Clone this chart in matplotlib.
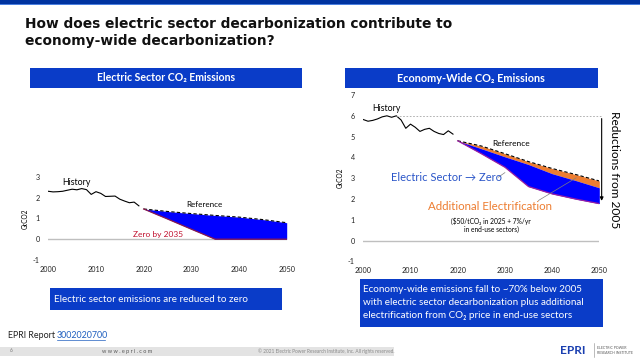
import matplotlib
matplotlib.use("Agg")
import matplotlib.pyplot as plt
from matplotlib.patches import Rectangle

plt.rcParams['font.family'] = ['Lato', 'DejaVu Sans']

# ---------------- data ----------------
hist_years = list(range(2000, 2020))
elec_hist = [2.30, 2.27, 2.28, 2.30, 2.35, 2.40, 2.37, 2.43, 2.38, 2.15,
             2.28, 2.20, 2.05, 2.06, 2.07, 1.92, 1.83, 1.75, 1.78, 1.60]
econ_hist = [5.82, 5.74, 5.78, 5.85, 5.95, 6.00, 5.93, 6.00, 5.80, 5.40,
             5.60, 5.45, 5.25, 5.35, 5.40, 5.25, 5.15, 5.10, 5.28, 5.12]

proj_years = [2020, 2025, 2030, 2035, 2040, 2045, 2050]
elec_ref = [1.45, 1.33, 1.23, 1.14, 1.06, 0.94, 0.79]
elec_zero = [1.45, 0.97, 0.48, 0.0, 0.0, 0.0, 0.0]

econ_ref = [4.80, 4.55, 4.18, 3.80, 3.47, 3.18, 2.87]
econ_elec_zero = [4.80, 4.42, 4.03, 3.66, 3.22, 2.89, 2.54]
econ_addl_elec = [4.80, 4.18, 3.53, 2.60, 2.25, 2.00, 1.78]

xticks = [2000, 2010, 2020, 2030, 2040, 2050]
elec_yticks = [-1, 0, 1, 2, 3]
econ_yticks = [-1, 0, 1, 2, 3, 4, 5, 6, 7]
baseline_2005 = econ_hist[5]

BLUE_BOX = '#0a3cc8'
FILL_BLUE = '#0000ff'
ORANGE = '#ed7d31'
W, H = 640, 360

fig = plt.figure(figsize=(6.4, 3.6), dpi=100)

# overlay for slide decorations (pixel coords)
ov = fig.add_axes([0, 0, 1, 1])
ov.set_xlim(0, W)
ov.set_ylim(H, 0)
ov.axis('off')
ov.add_patch(Rectangle((0, 0), W, 4, color='#0033a0', lw=0))
ov.add_patch(Rectangle((0, 4), W, 1, color='#4a7fe0', lw=0))
ov.text(25, 28.5, "How does electric sector decarbonization contribute to",
        fontsize=9.9, fontweight='bold', family='DejaVu Sans', va='baseline', ha='left', color='#111111')
ov.text(25, 45, "economy-wide decarbonization?",
        fontsize=9.9, fontweight='bold', family='DejaVu Sans', va='baseline', ha='left', color='#111111')

# chart title boxes
ov.add_patch(Rectangle((30, 68), 272, 20, color=BLUE_BOX, lw=0))
ov.text(166, 78, "Electric Sector CO₂ Emissions", color='white', fontsize=7.6,
        fontweight='bold', ha='center', va='center')
ov.add_patch(Rectangle((345, 68), 253, 20, color=BLUE_BOX, lw=0))
ov.text(471, 78, "Economy-Wide CO₂ Emissions", color='white', fontsize=7.8,
        fontweight='bold', ha='center', va='center')

# bottom boxes
ov.add_patch(Rectangle((50, 288), 232, 22, color=BLUE_BOX, lw=0))
ov.text(54, 299, "Electric sector emissions are reduced to zero", color='white',
        fontsize=7.1, ha='left', va='center')
ov.add_patch(Rectangle((360, 279), 243, 48, color=BLUE_BOX, lw=0))
for i, line in enumerate(["Economy-wide emissions fall to ~70% below 2005",
                          "with electric sector decarbonization plus additional",
                          "electrification from CO₂ price in end-use sectors"]):
    ov.text(363, 290 + i * 12.5, line, color='white', fontsize=7.1, ha='left', va='center')

# report ref + footer
ov.text(8, 335, "EPRI Report", fontsize=6.4, ha='left', va='center', color='#222222')
ov.text(57, 335, "3002020700", fontsize=6.4, ha='left', va='center', color='#1f5fbf')
ov.plot([57, 105], [339.5, 339.5], color='#1f5fbf', lw=0.5)
ov.add_patch(Rectangle((0, 346.5), 394, 9, color='#e3e3e3', lw=0))
ov.text(10, 351, "6", fontsize=3.5, ha='left', va='center', color='#777777')
ov.text(127, 351, "w w w . e p r i . c o m", fontsize=4.0, ha='center', va='center', color='#555555')
ov.text(326, 351, "© 2021 Electric Power Research Institute, Inc. All rights reserved.",
        fontsize=3.4, ha='center', va='center', color='#888888')
ov.text(573, 350, "EPRI", fontsize=8.5, fontweight='bold', ha='center', va='center', color='#1a3fb0')
ov.plot([594, 594], [343, 357], color='#888888', lw=0.4)
ov.text(597, 348, "ELECTRIC POWER", fontsize=2.5, ha='left', va='center', color='#555555')
ov.text(597, 352.5, "RESEARCH INSTITUTE", fontsize=2.5, ha='left', va='center', color='#555555')


def style_axes(ax, ylim, yticks):
    ax.set_xlim(2000, 2050)
    ax.set_ylim(*ylim)
    ax.set_xticks(xticks)
    ax.set_yticks(yticks)
    ax.set_xticklabels([str(t) for t in xticks])
    ax.set_yticklabels([str(t) for t in yticks])
    for s in ax.spines.values():
        s.set_visible(False)
    ax.tick_params(length=0, labelsize=5.2, colors='#222222', pad=6)
    ax.tick_params(axis='x', pad=4)
    ax.axhline(0, color='#bfbfbf', lw=1.0, zorder=1)
    ax.set_ylabel("GtCO2", fontsize=4.8, labelpad=3)
    ax.patch.set_alpha(0)


# ---------------- left chart ----------------
axl = fig.add_axes([48.3 / W, 1 - 260 / H, 238.4 / W, 83.3 / H])
style_axes(axl, (-1, 3), elec_yticks)
axl.plot(hist_years, elec_hist, color='black', lw=0.8)
axl.fill_between(proj_years, elec_zero, elec_ref, color=FILL_BLUE, lw=0, zorder=2)
axl.plot(proj_years, elec_ref, color='black', lw=0.8, ls=(0, (3, 2)), zorder=3)
axl.plot(proj_years, elec_zero, color='#8b1a4a', lw=0.9, zorder=3)
axl.text(2003, 2.7, "History", fontsize=6.3, ha='left', va='center')
axl.text(2029, 1.68, "Reference", fontsize=5.8, ha='left', va='center')
axl.text(2017.8, 0.22, "Zero by 2035", fontsize=6, ha='left', va='center', color='#c0102e')

# ---------------- right chart ----------------
axr = fig.add_axes([363.3 / W, 1 - 261.5 / H, 236 / W, 166.5 / H])
style_axes(axr, (-1, 7), econ_yticks)
axr.plot(hist_years, econ_hist, color='black', lw=0.8)
axr.fill_between(proj_years, econ_elec_zero, econ_ref, color=ORANGE, lw=0, zorder=2)
axr.fill_between(proj_years, econ_addl_elec, econ_elec_zero, color=FILL_BLUE, lw=0, zorder=2)
axr.plot(proj_years, econ_ref, color='black', lw=0.8, ls=(0, (3, 2)), zorder=3)
axr.plot(proj_years, econ_addl_elec, color='#9b1fa0', lw=0.9, zorder=3)
axr.plot([2007, 2050.5], [baseline_2005, baseline_2005], color='#a6a6a6', lw=0.6,
         ls=(0, (2, 2)), clip_on=False)
axr.annotate("", xy=(2050.5, econ_addl_elec[-1]), xytext=(2050.5, baseline_2005),
             arrowprops=dict(arrowstyle='-|>', color='black', lw=0.8, mutation_scale=5),
             annotation_clip=False)
axr.text(2053.2, 3.4, "Reductions from 2005", rotation=-90, fontsize=8.6,
         ha='center', va='center', clip_on=False)
axr.text(2002, 6.36, "History", fontsize=6.3, ha='left', va='center')
axr.text(2027.3, 4.68, "Reference", fontsize=6, ha='left', va='center')
axr.text(2005.8, 3.06, "Electric Sector → Zero", fontsize=8.0, ha='left', va='center',
         color='#2a55c8')
axr.plot([2028.6, 2030.0], [3.05, 3.27], color='#7f7f7f', lw=0.5)
axr.text(2013.8, 1.63, "Additional Electrification", fontsize=8.3, ha='left', va='center',
         color=ORANGE)
axr.plot([2037.1, 2045.1], [1.93, 3.02], color='#7f7f7f', lw=0.5, zorder=4)
axr.text(2027.1, 0.96, "($50/tCO₂ in 2025 + 7%/yr", fontsize=4.8, ha='center', va='center')
axr.text(2027.1, 0.52, "in end-use sectors)", fontsize=4.8, ha='center', va='center')

fig.savefig("out.png", dpi=100)
